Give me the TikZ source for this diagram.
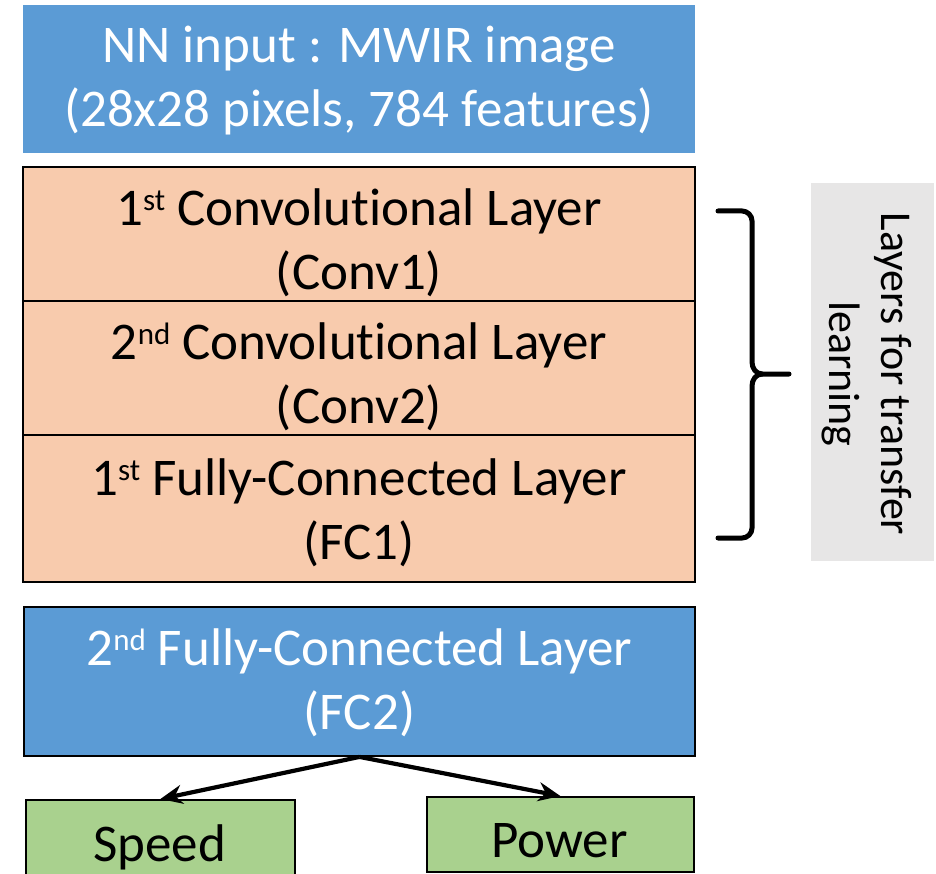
\documentclass[tikz,border=0pt]{standalone}
\usepackage{fontspec}
\setmainfont{Carlito}[Ligatures=NoCommon]
\usetikzlibrary{arrows.meta}
\definecolor{inblue}{HTML}{5B9BD5}
\definecolor{layerorange}{HTML}{F8CBAD}
\definecolor{outgreen}{HTML}{A9D18E}
\definecolor{notegray}{HTML}{E7E6E6}
% ordinal suffix set small and high, as in Office
\newcommand{\ordsfx}[1]{\raisebox{15pt}{\fontsize{31}{31}\selectfont #1}}
\begin{document}
\begin{tikzpicture}[x=1pt,y=-1pt,
  box/.style={rectangle,inner sep=0pt,minimum width=672pt},
  boxtext/.style={align=center,inner sep=0pt,font=\fontsize{53}{64}\selectfont},
  bluebox/.style={box,fill=inblue},
  layerbox/.style={box,fill=layerorange,draw=black,line width=1.8pt},
  outbox/.style={rectangle,inner sep=0pt,fill=outgreen,draw=black,line width=1.8pt},
  outtext/.style={font=\fontsize{53}{64}\selectfont,anchor=base},
  conn/.style={-{Stealth[length=22pt,width=19pt]},line width=4.2pt},
  bracestyle/.style={line width=5pt,line cap=round}]
\clip (0,0) rectangle (936,874);
\fill[white] (0,0) rectangle (936,874);

% input and layers
\node[bluebox,minimum height=148pt] (input) at (359,79) {};
\node[boxtext,text=white] (inputtxt) at ([yshift=-2pt]input.center)
  {NN input : MWIR image\\(28x28 pixels, 784 features)};
\node[layerbox,minimum height=134pt] (conv1) at (359,234) {};
\node[boxtext] (conv1txt) at ([yshift=-9pt]conv1.center)
  {1\ordsfx{st} Convolutional Layer\\(Conv1)};
\node[layerbox,minimum height=134pt] (conv2) at (359,368) {};
\node[boxtext] (conv2txt) at ([yshift=-9pt]conv2.center)
  {2\ordsfx{nd} Convolutional Layer\\(Conv2)};
\node[layerbox,minimum height=147pt] (fc1) at (359,508.5) {};
\node[boxtext] (fc1txt) at ([yshift=-4pt]fc1.center)
  {1\ordsfx{st} Fully-Connected Layer\\(FC1)};
\node[bluebox,draw=black,line width=1.8pt,minimum width=671pt,minimum height=149pt] (fc2) at (359.5,681.5) {};
\node[boxtext,text=white] (fc2txt) at ([yshift=-1pt]fc2.center)
  {2\ordsfx{nd} Fully-Connected Layer\\(FC2)};

% outputs
\node[outbox,minimum width=269pt,minimum height=90pt,anchor=north west] (speed) at (25,799) {};
\node[outtext] (speedtxt) at (159.5,861) {Speed};
\node[outbox,minimum width=267pt,minimum height=75pt,anchor=north west] (power) at (426,796) {};
\node[outtext] (powertxt) at (559.5,857) {Power};

\coordinate (split) at (fc2.south);
\draw[conn] (split) -- (speed.north);
\draw[conn] (split) -- (power.north);

% brace over the transfer layers
\coordinate (bt) at (718,211);
\coordinate (bb) at (718,538);
\coordinate (btip) at (789,374);
\draw[bracestyle] (bt) -- (742,211) to[out=0,in=90] (752,221) -- (752,362)
  to[out=-90,in=180] (762,374) -- (btip);
\draw[bracestyle] (bb) -- (742,538) to[out=0,in=-90] (752,528) -- (752,386)
  to[out=90,in=180] (762,374);

% side note
\node[rectangle,fill=notegray,minimum width=123pt,minimum height=378pt,anchor=north west] (note) at (811,183) {};
\node[rotate=-90,align=center,font=\fontsize{44}{52}\selectfont] (notetxt) at (867,374)
  {Layers for transfer\\learning};
\end{tikzpicture}
\end{document}
